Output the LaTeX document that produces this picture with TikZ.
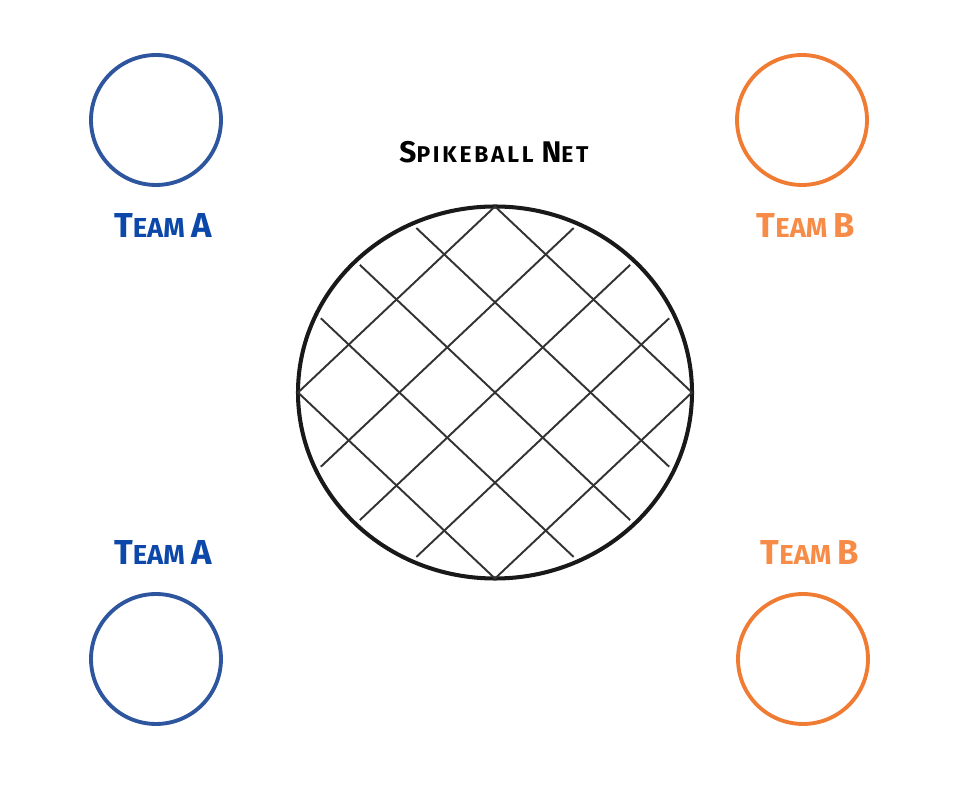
\documentclass[tikz,border=0pt]{standalone}
\usepackage{fontspec}
\setmainfont{Fira Sans}
\definecolor{teamblue}{RGB}{12,72,170}
\definecolor{ringblue}{RGB}{46,86,158}
\definecolor{teamorange}{RGB}{247,140,72}
\definecolor{ringorange}{RGB}{240,124,52}
% larger capital in front of the small capitals
\newcommand{\bigletter}[2]{{\fontsize{#1}{#1}\selectfont #2}}

\begin{document}
\begin{tikzpicture}[x=0.02cm,y=-0.02cm,
    ring/.style={circle,draw=#1,line width=2.2pt,minimum size=2.6cm,inner sep=0pt},
    teamlabel/.style={text=#1,font=\bfseries\fontsize{15.6}{16}\selectfont,inner sep=0pt},
    netrim/.style={line width=2.3pt,black!90},
    netline/.style={line width=1.1pt,black!80}]
    \useasboundingbox (0,0) rectangle (960,786);
    % the four players
    \node[ring=ringblue]   (ringAtop) at (156,120) {};
    \node[ring=ringorange] (ringBtop) at (802,120) {};
    \node[ring=ringblue]   (ringAbot) at (156,659) {};
    \node[ring=ringorange] (ringBbot) at (803,659) {};
    \node[teamlabel=teamblue]   (labAtop) at (163,226) {\bigletter{19.7}{T}EAM \bigletter{19.7}{A}};
    \node[teamlabel=teamorange] (labBtop) at (806,226) {\bigletter{19.7}{T}EAM \bigletter{19.7}{B}};
    \node[teamlabel=teamblue]   (labAbot) at (163,553) {\bigletter{19.7}{T}EAM \bigletter{19.7}{A}};
    \node[teamlabel=teamorange] (labBbot) at (810,553) {\bigletter{19.7}{T}EAM \bigletter{19.7}{B}};
    % the net
    \node[font=\bfseries\fontsize{13}{14}\selectfont\addfontfeatures{LetterSpace=12},inner sep=0pt] (title) at (494,152)
        {\bigletter{17}{S}PIKEBALL \bigletter{17}{N}ET};
    \draw[netrim] (495,392.5) ellipse [x radius=197, y radius=186];
    \begin{scope}[shift={(495,392.5)},xscale=197,yscale=186]
      \draw[netline] (1,0) -- (0,1) -- (-1,0) -- (0,-1) -- cycle;
      \foreach \ua/\va/\ub/\vb in {0.686/0.686/-0.686/-0.686, 0.686/-0.686/-0.686/0.686,
          0.884/-0.399/-0.399/0.884, -0.884/0.399/0.399/-0.884,
          0.884/0.399/-0.399/-0.884, -0.884/-0.399/0.399/0.884}
        \draw[netline] (\ua,\va) -- (\ub,\vb);
    \end{scope}
\end{tikzpicture}
\end{document}
